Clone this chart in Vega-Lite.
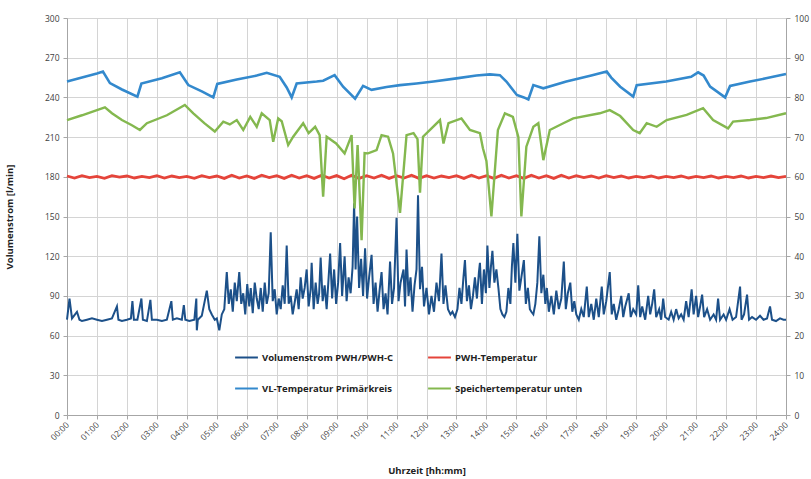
{
  "$schema": "https://vega.github.io/schema/vega-lite/v6.json",
  "width": 719,
  "height": 397,
  "autosize": {"type": "none"},
  "padding": {"left": 67, "top": 18, "right": 25, "bottom": 64},
  "background": "white",
  "config": {
    "view": {"stroke": null},
    "font": "Open Sans",
    "axis": {"labelFont": "Open Sans", "labelFontSize": 8.5, "labelColor": "#404040", "domainColor": "#a6a6a6", "tickColor": "#a6a6a6", "gridColor": "#d4d4d4", "titleFont": "Open Sans", "titleFontSize": 9.5, "titleFontWeight": "bold", "titleColor": "#222222"}
  },
  "datasets": {
    "flow": [
      {"t":0,"v":72},{"t":5,"v":88},{"t":10,"v":73},{"t":20,"v":78},{"t":25,"v":72},{"t":30,"v":71},{"t":40,"v":72},{"t":50,"v":73},{"t":60,"v":72},{"t":70,"v":71},{"t":80,"v":72},{"t":90,"v":73},{"t":100,"v":82},{"t":103,"v":72},{"t":110,"v":71},{"t":120,"v":72},{"t":128,"v":73},{"t":131,"v":86},{"t":134,"v":72},{"t":141,"v":72},{"t":149,"v":88},{"t":152,"v":72},{"t":160,"v":71},{"t":167,"v":87},{"t":170,"v":72},{"t":180,"v":72},{"t":190,"v":71},{"t":200,"v":72},{"t":209,"v":86},{"t":212,"v":72},{"t":220,"v":73},{"t":230,"v":72},{"t":234,"v":83},{"t":237,"v":72},{"t":245,"v":71},{"t":255,"v":72},{"t":259,"v":88},{"t":260,"v":64},{"t":262,"v":72},{"t":270,"v":75},{"t":280,"v":94},{"t":285,"v":80},{"t":290,"v":76},{"t":296,"v":72},
      {"t":300,"v":73},{"t":305,"v":64},{"t":310,"v":76},{"t":315,"v":80},{"t":320,"v":108},{"t":324,"v":84},{"t":328,"v":95},{"t":332,"v":78},{"t":336,"v":100},{"t":340,"v":86},{"t":345,"v":108},{"t":349,"v":84},{"t":353,"v":92},{"t":357,"v":76},{"t":361,"v":99},{"t":365,"v":82},{"t":368,"v":96},{"t":372,"v":77},{"t":376,"v":100},{"t":380,"v":88},{"t":384,"v":80},{"t":388,"v":96},{"t":392,"v":78},{"t":396,"v":100},{"t":400,"v":84},{"t":404,"v":92},{"t":408,"v":138},{"t":412,"v":86},{"t":416,"v":95},{"t":420,"v":76},{"t":424,"v":88},{"t":428,"v":80},{"t":432,"v":98},{"t":436,"v":84},{"t":440,"v":128},{"t":444,"v":84},{"t":448,"v":90},{"t":452,"v":76},{"t":456,"v":85},{"t":460,"v":95},{"t":464,"v":80},{"t":468,"v":104},{"t":472,"v":88},{"t":476,"v":96},
      {"t":480,"v":110},{"t":484,"v":82},{"t":488,"v":95},{"t":490,"v":115},{"t":494,"v":80},{"t":498,"v":100},{"t":502,"v":84},{"t":505,"v":92},{"t":508,"v":119},{"t":512,"v":86},{"t":516,"v":98},{"t":520,"v":80},{"t":524,"v":104},{"t":527,"v":122},{"t":531,"v":88},{"t":535,"v":110},{"t":539,"v":84},{"t":543,"v":100},{"t":547,"v":130},{"t":551,"v":90},{"t":556,"v":120},{"t":560,"v":86},{"t":564,"v":104},{"t":568,"v":92},{"t":572,"v":112},{"t":575,"v":160},{"t":578,"v":110},{"t":581,"v":150},{"t":585,"v":96},{"t":589,"v":118},{"t":593,"v":90},{"t":597,"v":126},{"t":601,"v":88},{"t":605,"v":104},{"t":610,"v":121},{"t":614,"v":84},{"t":618,"v":100},{"t":622,"v":78},{"t":626,"v":94},{"t":630,"v":108},{"t":634,"v":80},{"t":638,"v":92},{"t":642,"v":76},{"t":647,"v":116},{"t":651,"v":84},{"t":655,"v":96},{"t":660,"v":149},{"t":664,"v":86},{"t":668,"v":100},{"t":674,"v":110},{"t":677,"v":82},{"t":680,"v":125},{"t":684,"v":90},{"t":688,"v":104},{"t":692,"v":78},{"t":696,"v":98},{"t":700,"v":110},{"t":703,"v":166},{"t":707,"v":95},{"t":711,"v":112},{"t":715,"v":82},{"t":720,"v":96},{"t":725,"v":76},{"t":730,"v":90},{"t":735,"v":78},{"t":740,"v":100},{"t":745,"v":86},{"t":750,"v":122},{"t":754,"v":84},{"t":758,"v":98},{"t":763,"v":80},{"t":768,"v":76},{"t":772,"v":78},{"t":777,"v":74},{"t":782,"v":80},{"t":786,"v":96},{"t":790,"v":84},{"t":794,"v":104},{"t":797,"v":117},{"t":801,"v":86},{"t":805,"v":98},{"t":809,"v":80},{"t":813,"v":90},{"t":817,"v":104},{"t":821,"v":88},{"t":825,"v":108},{"t":827,"v":115},{"t":831,"v":84},{"t":835,"v":110},{"t":839,"v":92},{"t":842,"v":128},{"t":846,"v":96},{"t":849,"v":112},{"t":852,"v":124},{"t":856,"v":100},{"t":860,"v":110},{"t":864,"v":96},{"t":868,"v":80},{"t":872,"v":76},{"t":876,"v":74},{"t":880,"v":78},{"t":884,"v":96},{"t":888,"v":84},{"t":891,"v":112},{"t":894,"v":130},{"t":898,"v":100},{"t":902,"v":137},{"t":906,"v":94},{"t":910,"v":104},{"t":915,"v":117},{"t":919,"v":84},{"t":923,"v":96},{"t":927,"v":80},{"t":930,"v":78},{"t":934,"v":76},{"t":938,"v":84},{"t":942,"v":100},{"t":946,"v":135},{"t":950,"v":92},{"t":954,"v":106},{"t":958,"v":84},{"t":961,"v":96},{"t":965,"v":78},{"t":970,"v":90},{"t":975,"v":76},{"t":980,"v":94},{"t":985,"v":80},{"t":990,"v":88},{"t":995,"v":116},{"t":999,"v":80},{"t":1003,"v":92},{"t":1008,"v":100},{"t":1012,"v":78},{"t":1016,"v":86},
      {"t":1020,"v":76},{"t":1025,"v":72},{"t":1030,"v":80},{"t":1035,"v":74},{"t":1041,"v":97},{"t":1045,"v":74},{"t":1050,"v":84},{"t":1055,"v":72},{"t":1060,"v":88},{"t":1065,"v":74},{"t":1071,"v":97},{"t":1075,"v":76},{"t":1080,"v":86},{"t":1087,"v":108},{"t":1091,"v":76},{"t":1095,"v":84},{"t":1100,"v":72},{"t":1105,"v":80},{"t":1110,"v":90},{"t":1114,"v":74},{"t":1118,"v":82},{"t":1125,"v":92},{"t":1129,"v":74},{"t":1134,"v":80},{"t":1140,"v":76},{"t":1144,"v":98},{"t":1148,"v":74},{"t":1152,"v":82},{"t":1158,"v":72},{"t":1164,"v":90},{"t":1168,"v":76},{"t":1172,"v":84},{"t":1176,"v":95},{"t":1180,"v":74},{"t":1186,"v":80},{"t":1190,"v":72},{"t":1194,"v":88},{"t":1198,"v":74},{"t":1205,"v":72},{"t":1210,"v":78},{"t":1215,"v":72},{"t":1220,"v":80},{"t":1225,"v":73},{"t":1230,"v":76},{"t":1235,"v":72},{"t":1240,"v":86},{"t":1245,"v":74},{"t":1251,"v":95},{"t":1255,"v":76},{"t":1260,"v":90},{"t":1264,"v":74},{"t":1268,"v":82},{"t":1272,"v":91},{"t":1276,"v":74},{"t":1282,"v":80},{"t":1288,"v":72},{"t":1295,"v":76},{"t":1300,"v":72},{"t":1304,"v":88},{"t":1308,"v":72},{"t":1315,"v":76},{"t":1320,"v":72},{"t":1327,"v":80},{"t":1333,"v":72},{"t":1340,"v":74},{"t":1348,"v":97},{"t":1351,"v":72},{"t":1356,"v":76},{"t":1362,"v":91},{"t":1366,"v":72},{"t":1372,"v":74},{"t":1380,"v":72},{"t":1388,"v":75},{"t":1395,"v":72},{"t":1402,"v":73},{"t":1408,"v":82},{"t":1412,"v":72},{"t":1420,"v":71},{"t":1428,"v":73},{"t":1435,"v":72},{"t":1440,"v":72}
    ],
    "temps": [
      {"t":0,"s":"PWH-Temperatur","T":60.2},{"t":15,"s":"PWH-Temperatur","T":59.7},{"t":30,"s":"PWH-Temperatur","T":60.3},{"t":45,"s":"PWH-Temperatur","T":59.8},{"t":60,"s":"PWH-Temperatur","T":60.1},{"t":75,"s":"PWH-Temperatur","T":59.6},{"t":90,"s":"PWH-Temperatur","T":60.3},{"t":105,"s":"PWH-Temperatur","T":59.9},{"t":120,"s":"PWH-Temperatur","T":60.2},{"t":135,"s":"PWH-Temperatur","T":59.7},{"t":150,"s":"PWH-Temperatur","T":60.1},{"t":165,"s":"PWH-Temperatur","T":59.8},{"t":180,"s":"PWH-Temperatur","T":60.3},{"t":195,"s":"PWH-Temperatur","T":59.7},{"t":210,"s":"PWH-Temperatur","T":60.2},{"t":225,"s":"PWH-Temperatur","T":59.8},{"t":240,"s":"PWH-Temperatur","T":60.1},{"t":255,"s":"PWH-Temperatur","T":59.6},{"t":270,"s":"PWH-Temperatur","T":60.3},{"t":285,"s":"PWH-Temperatur","T":59.8},{"t":300,"s":"PWH-Temperatur","T":60.2},{"t":315,"s":"PWH-Temperatur","T":59.6},{"t":330,"s":"PWH-Temperatur","T":60.4},{"t":345,"s":"PWH-Temperatur","T":59.7},{"t":360,"s":"PWH-Temperatur","T":60.2},{"t":375,"s":"PWH-Temperatur","T":59.6},{"t":390,"s":"PWH-Temperatur","T":60.4},{"t":405,"s":"PWH-Temperatur","T":59.8},{"t":420,"s":"PWH-Temperatur","T":60.3},{"t":435,"s":"PWH-Temperatur","T":59.6},{"t":450,"s":"PWH-Temperatur","T":60.4},{"t":465,"s":"PWH-Temperatur","T":59.7},{"t":480,"s":"PWH-Temperatur","T":60.3},{"t":495,"s":"PWH-Temperatur","T":59.6},{"t":510,"s":"PWH-Temperatur","T":60.4},{"t":525,"s":"PWH-Temperatur","T":59.7},{"t":540,"s":"PWH-Temperatur","T":60.3},{"t":555,"s":"PWH-Temperatur","T":59.5},{"t":570,"s":"PWH-Temperatur","T":60.4},{"t":585,"s":"PWH-Temperatur","T":59.6},{"t":600,"s":"PWH-Temperatur","T":60.3},{"t":615,"s":"PWH-Temperatur","T":59.7},{"t":630,"s":"PWH-Temperatur","T":60.4},{"t":645,"s":"PWH-Temperatur","T":59.6},{"t":660,"s":"PWH-Temperatur","T":60.3},{"t":675,"s":"PWH-Temperatur","T":59.7},{"t":690,"s":"PWH-Temperatur","T":60.4},{"t":705,"s":"PWH-Temperatur","T":59.6},{"t":720,"s":"PWH-Temperatur","T":60.3},{"t":735,"s":"PWH-Temperatur","T":59.7},{"t":750,"s":"PWH-Temperatur","T":60.2},{"t":765,"s":"PWH-Temperatur","T":59.8},{"t":780,"s":"PWH-Temperatur","T":60.3},{"t":795,"s":"PWH-Temperatur","T":59.6},{"t":810,"s":"PWH-Temperatur","T":60.4},{"t":825,"s":"PWH-Temperatur","T":59.7},{"t":840,"s":"PWH-Temperatur","T":60.3},{"t":855,"s":"PWH-Temperatur","T":59.6},{"t":870,"s":"PWH-Temperatur","T":60.4},{"t":885,"s":"PWH-Temperatur","T":59.7},{"t":900,"s":"PWH-Temperatur","T":60.3},{"t":915,"s":"PWH-Temperatur","T":59.6},{"t":930,"s":"PWH-Temperatur","T":60.4},{"t":945,"s":"PWH-Temperatur","T":59.7},{"t":960,"s":"PWH-Temperatur","T":60.3},{"t":975,"s":"PWH-Temperatur","T":59.6},{"t":990,"s":"PWH-Temperatur","T":60.4},{"t":1005,"s":"PWH-Temperatur","T":59.7},{"t":1020,"s":"PWH-Temperatur","T":60.3},{"t":1035,"s":"PWH-Temperatur","T":59.8},{"t":1050,"s":"PWH-Temperatur","T":60.2},{"t":1065,"s":"PWH-Temperatur","T":59.7},{"t":1080,"s":"PWH-Temperatur","T":60.3},{"t":1095,"s":"PWH-Temperatur","T":59.8},{"t":1110,"s":"PWH-Temperatur","T":60.2},{"t":1125,"s":"PWH-Temperatur","T":59.7},{"t":1140,"s":"PWH-Temperatur","T":60.1},{"t":1155,"s":"PWH-Temperatur","T":59.8},{"t":1170,"s":"PWH-Temperatur","T":60.2},{"t":1185,"s":"PWH-Temperatur","T":59.7},{"t":1200,"s":"PWH-Temperatur","T":60.1},{"t":1215,"s":"PWH-Temperatur","T":59.8},{"t":1230,"s":"PWH-Temperatur","T":60.2},{"t":1245,"s":"PWH-Temperatur","T":59.7},{"t":1260,"s":"PWH-Temperatur","T":60.1},{"t":1275,"s":"PWH-Temperatur","T":59.8},{"t":1290,"s":"PWH-Temperatur","T":60.2},{"t":1305,"s":"PWH-Temperatur","T":59.7},{"t":1320,"s":"PWH-Temperatur","T":60.1},{"t":1335,"s":"PWH-Temperatur","T":59.8},{"t":1350,"s":"PWH-Temperatur","T":60.2},{"t":1365,"s":"PWH-Temperatur","T":59.7},{"t":1380,"s":"PWH-Temperatur","T":60.1},{"t":1395,"s":"PWH-Temperatur","T":59.8},{"t":1410,"s":"PWH-Temperatur","T":60.2},{"t":1425,"s":"PWH-Temperatur","T":59.8},{"t":1440,"s":"PWH-Temperatur","T":60.1},
      {"t":0,"s":"VL-Temperatur Primärkreis","T":84.0},{"t":30,"s":"VL-Temperatur Primärkreis","T":85.0},{"t":60,"s":"VL-Temperatur Primärkreis","T":86.0},{"t":72,"s":"VL-Temperatur Primärkreis","T":86.5},{"t":86,"s":"VL-Temperatur Primärkreis","T":83.6},{"t":110,"s":"VL-Temperatur Primärkreis","T":82.0},{"t":141,"s":"VL-Temperatur Primärkreis","T":80.2},{"t":149,"s":"VL-Temperatur Primärkreis","T":83.5},{"t":190,"s":"VL-Temperatur Primärkreis","T":84.8},{"t":226,"s":"VL-Temperatur Primärkreis","T":86.3},{"t":243,"s":"VL-Temperatur Primärkreis","T":83.1},{"t":270,"s":"VL-Temperatur Primärkreis","T":81.5},{"t":293,"s":"VL-Temperatur Primärkreis","T":80.0},{"t":301,"s":"VL-Temperatur Primärkreis","T":83.4},{"t":340,"s":"VL-Temperatur Primärkreis","T":84.5},{"t":380,"s":"VL-Temperatur Primärkreis","T":85.5},{"t":400,"s":"VL-Temperatur Primärkreis","T":86.2},{"t":426,"s":"VL-Temperatur Primärkreis","T":85.2},{"t":440,"s":"VL-Temperatur Primärkreis","T":82.5},{"t":450,"s":"VL-Temperatur Primärkreis","T":80.0},{"t":460,"s":"VL-Temperatur Primärkreis","T":83.5},{"t":500,"s":"VL-Temperatur Primärkreis","T":84.0},{"t":513,"s":"VL-Temperatur Primärkreis","T":84.2},{"t":536,"s":"VL-Temperatur Primärkreis","T":85.6},{"t":553,"s":"VL-Temperatur Primärkreis","T":82.7},{"t":577,"s":"VL-Temperatur Primärkreis","T":79.7},{"t":593,"s":"VL-Temperatur Primärkreis","T":82.9},{"t":610,"s":"VL-Temperatur Primärkreis","T":81.9},{"t":640,"s":"VL-Temperatur Primärkreis","T":82.6},{"t":667,"s":"VL-Temperatur Primärkreis","T":83.1},{"t":700,"s":"VL-Temperatur Primärkreis","T":83.5},{"t":734,"s":"VL-Temperatur Primärkreis","T":84.0},{"t":780,"s":"VL-Temperatur Primärkreis","T":84.8},{"t":820,"s":"VL-Temperatur Primärkreis","T":85.5},{"t":847,"s":"VL-Temperatur Primärkreis","T":85.8},{"t":867,"s":"VL-Temperatur Primärkreis","T":85.6},{"t":880,"s":"VL-Temperatur Primärkreis","T":84.0},{"t":901,"s":"VL-Temperatur Primärkreis","T":80.6},{"t":915,"s":"VL-Temperatur Primärkreis","T":80.0},{"t":924,"s":"VL-Temperatur Primärkreis","T":79.5},{"t":934,"s":"VL-Temperatur Primärkreis","T":83.1},{"t":954,"s":"VL-Temperatur Primärkreis","T":82.3},{"t":1000,"s":"VL-Temperatur Primärkreis","T":84.0},{"t":1050,"s":"VL-Temperatur Primärkreis","T":85.5},{"t":1081,"s":"VL-Temperatur Primärkreis","T":86.5},{"t":1090,"s":"VL-Temperatur Primärkreis","T":85.0},{"t":1108,"s":"VL-Temperatur Primärkreis","T":82.7},{"t":1134,"s":"VL-Temperatur Primärkreis","T":80.2},{"t":1141,"s":"VL-Temperatur Primärkreis","T":83.1},{"t":1200,"s":"VL-Temperatur Primärkreis","T":84.0},{"t":1250,"s":"VL-Temperatur Primärkreis","T":85.2},{"t":1264,"s":"VL-Temperatur Primärkreis","T":86.3},{"t":1275,"s":"VL-Temperatur Primärkreis","T":85.5},{"t":1288,"s":"VL-Temperatur Primärkreis","T":82.7},{"t":1318,"s":"VL-Temperatur Primärkreis","T":80.0},{"t":1328,"s":"VL-Temperatur Primärkreis","T":82.9},{"t":1368,"s":"VL-Temperatur Primärkreis","T":84.0},{"t":1400,"s":"VL-Temperatur Primärkreis","T":84.8},{"t":1440,"s":"VL-Temperatur Primärkreis","T":85.9},
      {"t":0,"s":"Speichertemperatur unten","T":74.3},{"t":30,"s":"Speichertemperatur unten","T":75.5},{"t":60,"s":"Speichertemperatur unten","T":76.8},{"t":76,"s":"Speichertemperatur unten","T":77.5},{"t":90,"s":"Speichertemperatur unten","T":76.0},{"t":110,"s":"Speichertemperatur unten","T":74.3},{"t":130,"s":"Speichertemperatur unten","T":73.0},{"t":146,"s":"Speichertemperatur unten","T":71.8},{"t":160,"s":"Speichertemperatur unten","T":73.5},{"t":200,"s":"Speichertemperatur unten","T":75.5},{"t":236,"s":"Speichertemperatur unten","T":78.1},{"t":253,"s":"Speichertemperatur unten","T":76.0},{"t":275,"s":"Speichertemperatur unten","T":73.5},{"t":296,"s":"Speichertemperatur unten","T":71.4},{"t":313,"s":"Speichertemperatur unten","T":73.9},{"t":326,"s":"Speichertemperatur unten","T":73.2},{"t":340,"s":"Speichertemperatur unten","T":74.3},{"t":353,"s":"Speichertemperatur unten","T":71.8},{"t":367,"s":"Speichertemperatur unten","T":75.1},{"t":380,"s":"Speichertemperatur unten","T":72.6},{"t":390,"s":"Speichertemperatur unten","T":76.0},{"t":406,"s":"Speichertemperatur unten","T":74.3},{"t":413,"s":"Speichertemperatur unten","T":68.8},{"t":423,"s":"Speichertemperatur unten","T":74.7},{"t":430,"s":"Speichertemperatur unten","T":74.0},{"t":443,"s":"Speichertemperatur unten","T":68.0},{"t":453,"s":"Speichertemperatur unten","T":70.1},{"t":473,"s":"Speichertemperatur unten","T":73.5},{"t":484,"s":"Speichertemperatur unten","T":71.0},{"t":497,"s":"Speichertemperatur unten","T":72.6},{"t":506,"s":"Speichertemperatur unten","T":70.5},{"t":513,"s":"Speichertemperatur unten","T":55.0},{"t":520,"s":"Speichertemperatur unten","T":70.1},{"t":539,"s":"Speichertemperatur unten","T":68.4},{"t":556,"s":"Speichertemperatur unten","T":65.9},{"t":570,"s":"Speichertemperatur unten","T":70.5},{"t":576,"s":"Speichertemperatur unten","T":52.0},{"t":582,"s":"Speichertemperatur unten","T":68.0},{"t":590,"s":"Speichertemperatur unten","T":44.0},{"t":596,"s":"Speichertemperatur unten","T":66.0},{"t":603,"s":"Speichertemperatur unten","T":65.9},{"t":620,"s":"Speichertemperatur unten","T":66.7},{"t":630,"s":"Speichertemperatur unten","T":70.5},{"t":643,"s":"Speichertemperatur unten","T":70.1},{"t":653,"s":"Speichertemperatur unten","T":65.9},{"t":667,"s":"Speichertemperatur unten","T":50.9},{"t":680,"s":"Speichertemperatur unten","T":70.5},{"t":694,"s":"Speichertemperatur unten","T":71.0},{"t":702,"s":"Speichertemperatur unten","T":69.5},{"t":707,"s":"Speichertemperatur unten","T":56.0},{"t":713,"s":"Speichertemperatur unten","T":70.1},{"t":727,"s":"Speichertemperatur unten","T":71.8},{"t":747,"s":"Speichertemperatur unten","T":74.3},{"t":754,"s":"Speichertemperatur unten","T":68.4},{"t":764,"s":"Speichertemperatur unten","T":73.5},{"t":790,"s":"Speichertemperatur unten","T":74.7},{"t":807,"s":"Speichertemperatur unten","T":71.8},{"t":827,"s":"Speichertemperatur unten","T":71.0},{"t":833,"s":"Speichertemperatur unten","T":67.2},{"t":840,"s":"Speichertemperatur unten","T":64.0},{"t":850,"s":"Speichertemperatur unten","T":50.0},{"t":863,"s":"Speichertemperatur unten","T":71.8},{"t":877,"s":"Speichertemperatur unten","T":76.0},{"t":893,"s":"Speichertemperatur unten","T":75.1},{"t":904,"s":"Speichertemperatur unten","T":70.0},{"t":910,"s":"Speichertemperatur unten","T":50.0},{"t":920,"s":"Speichertemperatur unten","T":67.6},{"t":934,"s":"Speichertemperatur unten","T":72.6},{"t":944,"s":"Speichertemperatur unten","T":73.5},{"t":954,"s":"Speichertemperatur unten","T":64.2},{"t":967,"s":"Speichertemperatur unten","T":71.8},{"t":994,"s":"Speichertemperatur unten","T":73.5},{"t":1014,"s":"Speichertemperatur unten","T":74.7},{"t":1067,"s":"Speichertemperatur unten","T":76.0},{"t":1087,"s":"Speichertemperatur unten","T":76.8},{"t":1108,"s":"Speichertemperatur unten","T":75.3},{"t":1134,"s":"Speichertemperatur unten","T":71.8},{"t":1147,"s":"Speichertemperatur unten","T":71.0},{"t":1161,"s":"Speichertemperatur unten","T":73.5},{"t":1181,"s":"Speichertemperatur unten","T":72.6},{"t":1201,"s":"Speichertemperatur unten","T":74.3},{"t":1241,"s":"Speichertemperatur unten","T":75.6},{"t":1274,"s":"Speichertemperatur unten","T":77.3},{"t":1294,"s":"Speichertemperatur unten","T":74.3},{"t":1324,"s":"Speichertemperatur unten","T":72.2},{"t":1334,"s":"Speichertemperatur unten","T":73.9},{"t":1368,"s":"Speichertemperatur unten","T":74.3},{"t":1400,"s":"Speichertemperatur unten","T":74.8},{"t":1440,"s":"Speichertemperatur unten","T":76.0}
    ]
  },
  "encoding": {
    "x": {"field": "t", "type": "quantitative", "scale": {"domain": [0, 1440], "nice": false},
      "axis": {"values": [0,60,120,180,240,300,360,420,480,540,600,660,720,780,840,900,960,1020,1080,1140,1200,1260,1320,1380,1440],
        "labelExpr": "(datum.value < 600 ? '0' : '') + (datum.value / 60) + ':00'",
        "labelAngle": -45, "labelAlign": "right", "labelBaseline": "middle", "labelPadding": 4,
        "grid": true, "tickSize": 4, "title": "Uhrzeit [hh:mm]", "titleY": 55, "titleBaseline": "middle"}}
  },
  "layer": [
    {
      "data": {"name": "flow"},
      "mark": {"type": "line", "strokeWidth": 2, "interpolate": "linear"},
      "encoding": {
        "y": {"field": "v", "type": "quantitative", "scale": {"domain": [0, 300], "nice": false},
          "axis": {"values": [0,30,60,90,120,150,180,210,240,270,300], "grid": true, "tickSize": 4, "labelPadding": 4,
            "title": "Volumenstrom [l/min]", "titleX": -53}},
        "color": {"datum": "Volumenstrom PWH/PWH-C", "type": "nominal",
          "scale": {"domain": ["Volumenstrom PWH/PWH-C", "PWH-Temperatur", "VL-Temperatur Primärkreis", "Speichertemperatur unten"],
            "range": ["#1c5089", "#e5443a", "#3389cd", "#84b84f"]},
          "legend": {"title": null, "orient": "none", "legendX": 167, "legendY": 327, "direction": "horizontal", "columns": 2,
            "symbolType": "stroke", "symbolSize": 520, "symbolStrokeWidth": 2, "labelFont": "Open Sans",
            "labelFontSize": 9.5, "labelFontWeight": "bold", "labelColor": "#222222", "labelOffset": 3,
            "columnPadding": 30, "rowPadding": 14, "labelLimit": 250,
            "values": ["Volumenstrom PWH/PWH-C", "PWH-Temperatur", "VL-Temperatur Primärkreis", "Speichertemperatur unten"]}}
      }
    },
    {
      "data": {"name": "temps"},
      "mark": {"type": "line", "interpolate": "linear"},
      "encoding": {
        "y": {"field": "T", "type": "quantitative", "scale": {"domain": [0, 100], "nice": false},
          "axis": {"orient": "right", "values": [0,10,20,30,40,50,60,70,80,90,100], "grid": false, "tickSize": 4, "labelPadding": 4, "title": null}},
        "color": {"field": "s", "type": "nominal",
          "legend": {"title": null, "orient": "none", "legendX": 167, "legendY": 327, "direction": "horizontal", "columns": 2,
            "symbolType": "stroke", "symbolSize": 520, "symbolStrokeWidth": 2, "labelFont": "Open Sans",
            "labelFontSize": 9.5, "labelFontWeight": "bold", "labelColor": "#222222", "labelOffset": 3,
            "columnPadding": 30, "rowPadding": 14, "labelLimit": 250,
            "values": ["Volumenstrom PWH/PWH-C", "PWH-Temperatur", "VL-Temperatur Primärkreis", "Speichertemperatur unten"]}},
        "strokeWidth": {"field": "s", "type": "nominal",
          "scale": {"domain": ["PWH-Temperatur", "VL-Temperatur Primärkreis", "Speichertemperatur unten"], "range": [2.8, 2.4, 1.8]},
          "legend": null}
      }
    }
  ],
  "resolve": {"scale": {"y": "independent"}}
}
